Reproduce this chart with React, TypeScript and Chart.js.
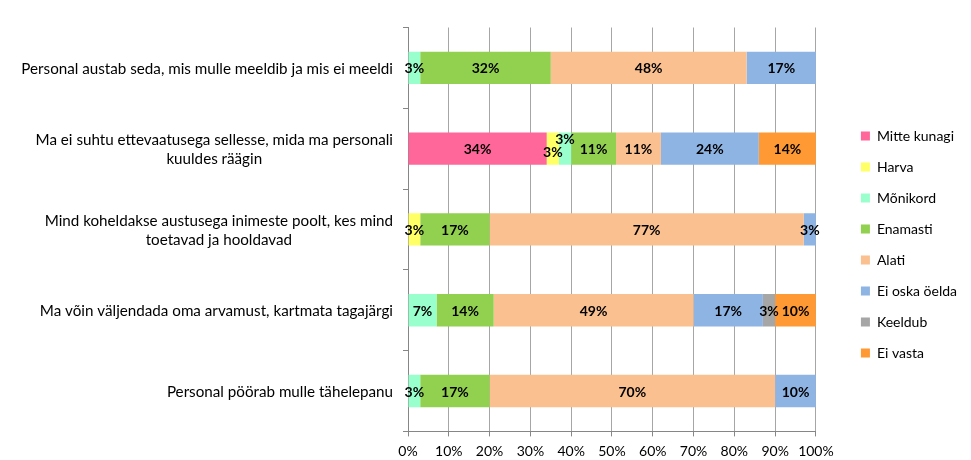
import React, { useEffect, useRef } from "react";
import { Chart, registerables } from "chart.js";

Chart.register(...registerables);

const categories: string[][] = [
  ["Personal austab seda, mis mulle meeldib ja mis ei meeldi"],
  ["Ma ei suhtu ettevaatusega sellesse, mida ma personali", "kuuldes räägin"],
  ["Mind koheldakse austusega inimeste poolt, kes mind", "toetavad ja hooldavad"],
  ["Ma võin väljendada oma arvamust, kartmata tagajärgi"],
  ["Personal pöörab mulle tähelepanu"],
];

const seriesNames = [
  "Mitte kunagi",
  "Harva",
  "Mõnikord",
  "Enamasti",
  "Alati",
  "Ei oska öelda",
  "Keeldub",
  "Ei vasta",
];

const mitteKunagi = [0, 34, 0, 0, 0];
const harva = [0, 3, 3, 0, 0];
const monikord = [3, 3, 0, 7, 3];
const enamasti = [32, 11, 17, 14, 17];
const alati = [48, 11, 77, 49, 70];
const eiOskaOelda = [17, 24, 3, 17, 10];
const keeldub = [0, 0, 0, 3, 0];
const eiVasta = [0, 14, 0, 10, 0];

const xTicks = [0, 10, 20, 30, 40, 50, 60, 70, 80, 90, 100];

const seriesColors = [
  "#FF6699",
  "#FFFF66",
  "#99FFCC",
  "#92D050",
  "#FAC090",
  "#8EB4E3",
  "#A6A6A6",
  "#FF9933",
];

// vertical label nudges (px) to avoid overlaps, per series per category
const labelNudge: number[][] = [
  [0, 0, 0, 0, 0],
  [0, 3, 0, 0, 0],
  [0, -10, 0, 0, 0],
  [0, 0, 0, 0, 0],
  [0, 0, 0, 0, 0],
  [0, 0, 0, 0, 0],
  [0, 0, 0, 0, 0],
  [0, 0, 0, 0, 0],
];

const FONT = "Lato";

const valueLabels = {
  id: "valueLabels",
  afterDatasetsDraw(chart: any) {
    const ctx = chart.ctx;
    ctx.save();
    ctx.font = `bold 14px ${FONT}`;
    ctx.fillStyle = "#000";
    ctx.textAlign = "center";
    ctx.textBaseline = "middle";
    chart.data.datasets.forEach((ds: any, i: number) => {
      const meta = chart.getDatasetMeta(i);
      meta.data.forEach((el: any, j: number) => {
        const v = ds.data[j];
        if (!v) return;
        const cx = (el.x + el.base) / 2;
        const cy = el.y + (labelNudge[i]?.[j] || 0) + 1;
        ctx.fillText(v + "%", cx, cy);
      });
    });
    ctx.restore();
  },
};

const categoryLabels = {
  id: "categoryLabels",
  afterDraw(chart: any) {
    const ctx = chart.ctx;
    const yScale = chart.scales.y;
    const right = chart.chartArea.left - 15;
    const lh = 19;
    ctx.save();
    ctx.font = `15.2px ${FONT}`;
    ctx.fillStyle = "#000";
    ctx.textAlign = "center";
    ctx.textBaseline = "middle";
    categories.forEach((lines, j) => {
      const y = yScale.getPixelForValue(j) + 1;
      const maxW = Math.max(...lines.map((l) => ctx.measureText(l).width));
      const cx = right - maxW / 2;
      const y0 = y - ((lines.length - 1) * lh) / 2;
      lines.forEach((l, k) => ctx.fillText(l, cx, y0 + k * lh));
    });
    ctx.restore();
  },
};

export default function App() {
  const ref = useRef<HTMLCanvasElement | null>(null);
  useEffect(() => {
    if (!ref.current) return;
    const seriesData = [mitteKunagi, harva, monikord, enamasti, alati, eiOskaOelda, keeldub, eiVasta];
    const chart = new Chart(ref.current, {
      type: "bar",
      data: {
        labels: categories.map((c) => c.join(" ")),
        datasets: seriesNames.map((name, i) => ({
          label: name,
          data: seriesData[i],
          backgroundColor: seriesColors[i],
          borderWidth: 0,
          barPercentage: 0.4,
          categoryPercentage: 1,
        })),
      },
      options: {
        indexAxis: "y",
        animation: false,
        responsive: false,
        events: [],
        layout: { padding: { top: 27.5, right: 4, bottom: -5.6, left: 0 } },
        scales: {
          x: {
            stacked: true,
            min: 0,
            max: 100,
            afterBuildTicks: (s: any) => {
              s.ticks = xTicks.map((v) => ({ value: v }));
            },
            ticks: {
              callback: (v: any) => v + "%",
              font: { family: FONT, size: 14, lineHeight: 1 },
              color: "#000",
              padding: 7.6,
              maxRotation: 0,
            },
            grid: {
              color: "#A6A6A6",
              lineWidth: 1,
              drawTicks: true,
              tickLength: 5,
              tickColor: "#868686",
            },
            border: { display: true, color: "#868686", width: 1 },
          },
          y: {
            stacked: true,
            ticks: { display: false },
            grid: {
              drawOnChartArea: false,
              drawTicks: true,
              tickLength: 5,
              tickColor: "#868686",
              offset: true,
            },
            border: { display: true, color: "#868686", width: 1 },
            afterFit: (s: any) => {
              s.width = 408;
            },
          },
          spacer: {
            type: "linear",
            position: "right",
            display: true,
            grid: { display: false },
            ticks: { display: false },
            border: { display: false },
            afterFit: (s: any) => {
              s.width = 42;
            },
          },
        },
        plugins: {
          tooltip: { enabled: false },
          title: { display: false },
          legend: {
            display: true,
            position: "right",
            align: "center",
            title: {
              display: true,
              text: "",
              font: { size: 10, lineHeight: 1 },
              padding: 0,
            },
            labels: {
              boxWidth: 9,
              boxHeight: 9,
              padding: 3,
              color: "#000",
              font: { family: FONT, size: 14, lineHeight: 2 },
              generateLabels: (ch: any) =>
                ch.data.datasets.map((ds: any, i: number) => ({
                  text: [ds.label],
                  fillStyle: ds.backgroundColor,
                  strokeStyle: ds.backgroundColor,
                  lineWidth: 0,
                  hidden: false,
                  datasetIndex: i,
                  fontColor: "#000",
                })),
            },
          },
        },
      },
      plugins: [valueLabels, categoryLabels],
    } as any);
    return () => chart.destroy();
  }, []);
  return (
    <div style={{ position: "fixed", left: 0, top: 0, width: 971, height: 460, background: "#fff" }}>
      <canvas ref={ref} width={971} height={460} style={{ display: "block" }} />
    </div>
  );
}
